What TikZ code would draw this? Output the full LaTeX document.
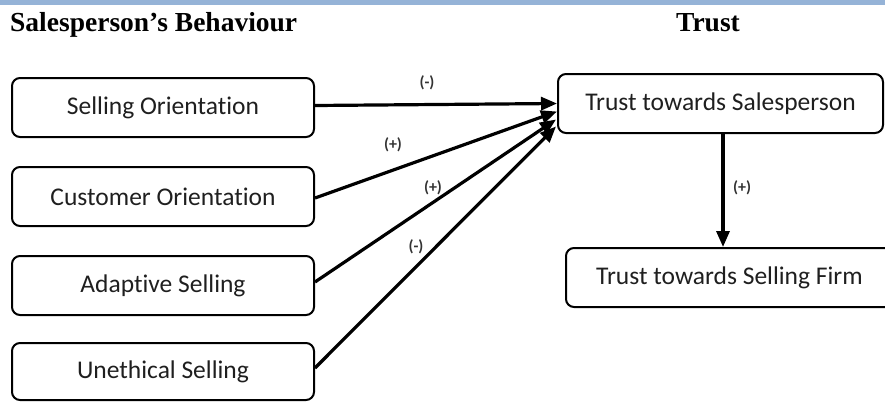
\documentclass[tikz,border=0pt]{standalone}
\usepackage{fontspec}
\setmainfont{Carlito}[Ligatures=NoCommon]
\newfontfamily\headfont{Liberation Serif}
\usetikzlibrary{arrows.meta}
\definecolor{topblue}{HTML}{95B3D7}
\begin{document}
\begin{tikzpicture}[x=1pt,y=-1pt,
  box/.style={draw=black, line width=2pt, rounded corners=8pt, minimum height=59pt,
    inner sep=0pt, font=\fontsize{25.5}{30}\selectfont, text=black!88},
  link/.style={line width=3.2pt, -{Triangle[length=16pt,width=13pt]}},
  sign/.style={font=\bfseries\fontsize{16}{18}\selectfont, text=black!80, inner sep=0pt},
  head/.style={font=\headfont\bfseries\fontsize{27.5}{30}\selectfont, anchor=base west, inner sep=0pt}]
\useasboundingbox (0,0) rectangle (885,402);
\fill[topblue] (0,0) rectangle (885,5);
\node[head] (h1) at (10,31) {Salesperson’s Behaviour};
\node[head] (h2) at (676,31) {Trust};
\node[box, minimum width=302pt] (so) at (163,107.5) {Selling Orientation};
\node[box, minimum width=302pt] (co) at (163,196.5) {Customer Orientation};
\node[box, minimum width=302pt] (as) at (163,285.5) {Adaptive Selling};
\node[box, minimum width=302pt, minimum height=57pt] (us) at (163,371.5) {Unethical Selling};
\node[box, minimum width=325pt] (ts) at (720.5,103.5) {Trust towards Salesperson};
\node[box, minimum width=327pt] (tf) at (729.5,277.5) {Trust towards Selling Firm};
\draw[link] ([yshift=2pt]so.east) -- ([yshift=0pt]ts.west);
\draw[link] ([yshift=-1.5pt]co.east) -- ([yshift=-8pt]ts.west);
\draw[link] ([yshift=3.5pt]as.east) -- ([xshift=-1pt,yshift=-16pt]ts.west);
\draw[link] ([yshift=3.5pt]us.east) -- ([xshift=-1pt,yshift=-23pt]ts.west);
\draw[link] (ts.south -| 723,0) -- (tf.north -| 723,0);
\node[sign] (l1) at (427,83) {(-)};
\node[sign] (l2) at (393,145) {(+)};
\node[sign] (l3) at (433,188) {(+)};
\node[sign] (l4) at (416,247) {(-)};
\node[sign] (l5) at (742,188) {(+)};
\end{tikzpicture}
\end{document}
